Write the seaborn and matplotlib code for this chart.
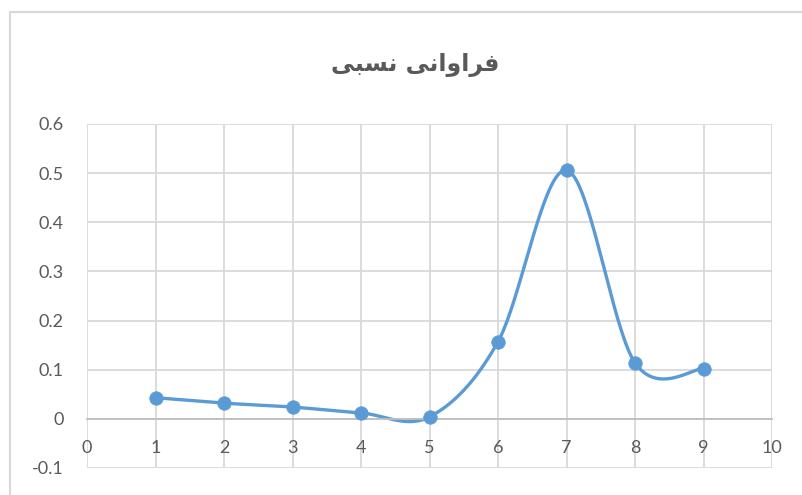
import numpy as np
import matplotlib
matplotlib.use("Agg")
import matplotlib.pyplot as plt
from matplotlib.patches import Rectangle
import seaborn as sns

# Relative frequency per class
classes = [1, 2, 3, 4, 5, 6, 7, 8, 9]
rel_freq = [0.043, 0.032, 0.024, 0.012, 0.004, 0.157, 0.506, 0.114, 0.102]
x_ticks = [0, 1, 2, 3, 4, 5, 6, 7, 8, 9, 10]
y_ticks = [-0.1, 0, 0.1, 0.2, 0.3, 0.4, 0.5, 0.6]

# Title "فراوانی نسبی" written in shaped Arabic presentation forms,
# in visual (left-to-right) order, since matplotlib does no bidi shaping.
title_visual = "\uFBFD\uFE92\uFEB4\uFEE7 \uFBFD\uFEE7\uFE8D\uFEED\uFE8D\uFEAE\uFED3"


def smooth_curve(xs, ys, n=40):
    """Catmull-Rom style Bezier smoothing through the data points."""
    p = np.column_stack([xs, ys]).astype(float)
    pts = np.vstack([p[0], p, p[-1]])
    out = []
    t = np.linspace(0, 1, n)[:, None]
    for i in range(1, len(pts) - 2):
        p0, p1, p2, p3 = pts[i - 1], pts[i], pts[i + 1], pts[i + 2]
        c1 = p1 + (p2 - p0) / 6.0
        c2 = p2 - (p3 - p1) / 6.0
        seg = ((1 - t) ** 3) * p1 + 3 * ((1 - t) ** 2) * t * c1 \
            + 3 * (1 - t) * t ** 2 * c2 + t ** 3 * p2
        out.append(seg if i == 1 else seg[1:])
    c = np.vstack(out)
    return c[:, 0], c[:, 1]


sns.set_theme(style="white")
plt.rcParams["font.family"] = ["Lato", "DejaVu Sans"]

W, H = 802, 495
fig = plt.figure(figsize=(W / 100, H / 100), dpi=100)
fig.patch.set_facecolor("white")

# chart-area border
fig.patches.append(Rectangle((9.5 / W, -0.1), 1.2, (H - 11.5) / H + 0.1,
                             transform=fig.transFigure, fill=False,
                             edgecolor="#d9d9d9", linewidth=1.5))

left, right, top, bottom = 87, 772, 124, 468
ax = fig.add_axes([left / W, 1 - bottom / H, (right - left) / W, (bottom - top) / H])
ax.set_xlim(0, 10)
ax.set_ylim(-0.1, 0.6)

text_color = "#595959"
grid_color = "#d9d9d9"

ax.set_xticks(x_ticks)
ax.set_yticks(y_ticks)
ax.set_xticklabels([str(v) for v in x_ticks])
ax.set_yticklabels(["-0.1", "0", "0.1", "0.2", "0.3", "0.4", "0.5", "0.6"])
ax.grid(True, color=grid_color, linewidth=1.3)
ax.set_axisbelow(True)

for s in ["top", "right", "left"]:
    ax.spines[s].set_visible(False)
ax.spines["bottom"].set_position(("data", 0))
ax.spines["bottom"].set_color("#bfbfbf")
ax.spines["bottom"].set_linewidth(1.3)

ax.tick_params(axis="x", length=0, pad=15, labelsize=13, labelcolor=text_color)
ax.tick_params(axis="y", length=0, pad=17, labelsize=13, labelcolor=text_color)

sx, sy = smooth_curve(classes, rel_freq)
sns.lineplot(x=sx, y=sy, sort=False, ax=ax, color="#5b9bd5", linewidth=2.4,
             estimator=None, clip_on=False)
sns.scatterplot(x=classes, y=rel_freq, ax=ax, color="#5b9bd5", s=95,
                edgecolor="#5b9bd5", linewidth=0.5, zorder=5, clip_on=False)

fig.text(415 / W, 1 - 65 / H, title_visual, ha="center", va="center",
         fontsize=17, fontweight="bold", color=text_color,
         family=["DejaVu Sans"])

fig.savefig("out.png", dpi=100)
